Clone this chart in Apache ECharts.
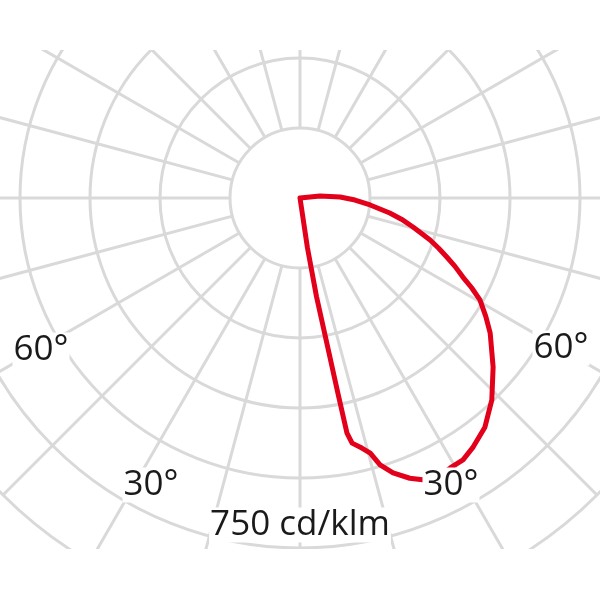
<!DOCTYPE html>
<html>
<head>
<meta charset="utf-8">
<script src="https://cdn.jsdelivr.net/npm/echarts@6/dist/echarts.min.js"></script>
<style>html,body{margin:0;padding:0;background:#fff;}#c{width:600px;height:600px;}</style>
</head>
<body>
<div id="c"></div>
<script>
// Gamma angle (deg from nadir, positive = right side) and luminous intensity (cd/klm), traced in drawing order
const gammaDeg = [0, 8.5, 9.5, 10.5, 11.0, 11.3, 12.0, 13.9, 15.4, 16.7, 18.7, 21.4, 24.2, 26.7, 29.1, 31.9, 34.8, 38.9, 43.5, 48.8, 54.6, 57.5, 60.5, 62.4, 64.1, 66.2, 68.1, 70.1, 72.1, 75.6, 78.2, 80.5, 84.3, 87.9, 91.4, 95.7, 100];
const intensity = [0, 107, 214, 321, 429, 514, 537, 552, 567, 597, 622, 645, 663, 666, 662, 661, 650, 631, 597, 550, 500, 472, 443, 415, 388, 363, 339, 316, 293, 250, 222, 195, 151, 118, 86, 43, 0];
const ringValues = [150, 300, 450, 600, 750, 900];
const angleLabels = ['60°', '30°', '30°', '60°'];
const unitLabel = '750 cd/klm';

const curve = gammaDeg.map((g, i) => [intensity[i], g]);

const gray = '#d9d9d9';
const chart = echarts.init(document.getElementById('c'), null, {renderer: 'canvas'});
const angleBase = {min: -180, max: 180, interval: 15, startAngle: 90, clockwise: false};
const font = '35px "Open Sans"';
function lbl(text, x, y) {
  return {type: 'text', x: x, y: y, z: 200,
    style: {text: text, font: font, fill: '#1a1a1a', align: 'center', verticalAlign: 'middle',
      backgroundColor: '#fff', padding: [0, 1]}};
}
chart.setOption({
  animation: false,
  polar: [
    {center: [300, 198], radius: [70, 420]},
    {center: [300, 198], radius: 420}
  ],
  angleAxis: [
    Object.assign({polarIndex: 0, axisLine: {show: false}, axisTick: {show: false}, axisLabel: {show: false},
      splitLine: {show: true, lineStyle: {color: gray, width: 3}}}, angleBase),
    Object.assign({polarIndex: 1, show: false}, angleBase)
  ],
  radiusAxis: [
    {polarIndex: 0, show: false, min: 0, max: 1},
    {polarIndex: 1, min: 0, max: ringValues[ringValues.length - 1], interval: ringValues[0],
      axisLine: {show: false}, axisTick: {show: false}, axisLabel: {show: false},
      splitLine: {show: true, lineStyle: {color: gray, width: 3}}}
  ],
  series: [{
    type: 'line', coordinateSystem: 'polar', polarIndex: 1, data: curve,
    showSymbol: false, symbol: 'none', smooth: false,
    lineStyle: {color: '#e2001a', width: 5, join: 'round', cap: 'round'}, z: 10
  }],
  graphic: [
    {type: 'rect', z: 150, shape: {x: 0, y: 0, width: 600, height: 50}, style: {fill: '#fff'}},
    {type: 'rect', z: 150, shape: {x: 0, y: 549, width: 600, height: 51}, style: {fill: '#fff'}},
    lbl(angleLabels[0], 41, 350),
    lbl(angleLabels[1], 151, 485),
    lbl(angleLabels[2], 451, 485),
    lbl(angleLabels[3], 561, 348),
    lbl(unitLabel, 300, 525)
  ]
});
</script>
</body>
</html>
